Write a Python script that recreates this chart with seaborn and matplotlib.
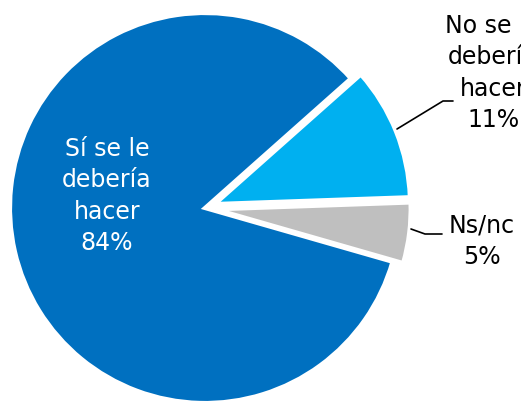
import matplotlib
matplotlib.use("Agg")
import matplotlib.pyplot as plt
import seaborn as sns

# ---------------------------------------------
# data
# ---------------------------------------------
categories = ["Sí se le\ndebería\nhacer", "No se le\ndebería\nhacer", "Ns/nc"]
values = [84, 11, 5]
colors = ["#0070C0", "#00B0F0", "#BFBFBF"]

sns.set_theme(style="white")
plt.rcParams['font.family'] = ['DejaVu Sans']

fig = plt.figure(figsize=(5.21, 4.01), dpi=100)
ax = fig.add_axes([0, 0, 1, 1])
ax.axis("off")

# axes work in pixel units, so explode must be scaled by the radius
R = 195
explode = [0, 0.055 * R, 0.055 * R]

wedges, _ = ax.pie(values, colors=colors, explode=explode, startangle=344,
                   counterclock=False, center=(205, 193), radius=R,
                   wedgeprops=dict(edgecolor="white", linewidth=3))
ax.set_xlim(0, 521)
ax.set_ylim(0, 401)

labels = [f"{c}\n{v}%" for c, v in zip(categories, values)]

# inside label
ax.text(107, 205, labels[0], color="white", fontsize=17, ha="center",
        va="center", linespacing=1.38)

# outside labels with leader lines
ax.text(493, 328, labels[1], color="black", fontsize=17, ha="center",
        va="center", linespacing=1.38)
ax.plot([397, 443, 453], [272, 300, 300], color="black", lw=1.2)

ax.text(482, 160, labels[2], color="black", fontsize=17, ha="center",
        va="center", linespacing=1.38)
ax.plot([411, 425, 442], [172, 167, 167], color="black", lw=1.2)

fig.savefig("out.png", dpi=100)
